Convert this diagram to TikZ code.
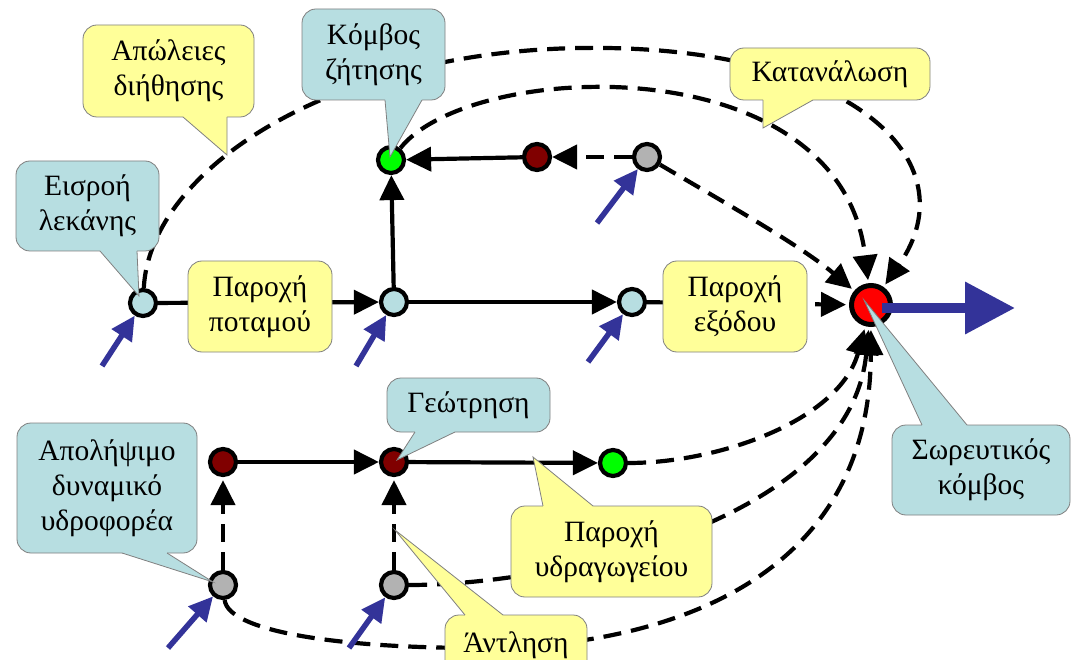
\documentclass[tikz,border=0pt]{standalone}
\usepackage{fontspec}
\setmainfont{Liberation Serif}
\usetikzlibrary{arrows.meta}
\definecolor{lblue}{HTML}{B7DEE1}
\definecolor{lyellow}{HTML}{FFFF99}
\definecolor{bgray}{HTML}{808080}
\definecolor{myblue}{HTML}{333399}
\definecolor{dred}{HTML}{800000}
\definecolor{ngray}{HTML}{B2B2B2}
\definecolor{ngreen}{HTML}{00FF00}
\newcommand\ptr[6]{%
  \fill[#1] (#5) -- (#2,#4) -- (#2,#6) -- (#3,#6) -- (#3,#4) -- cycle;
  \draw[pborder] (#2,#4) -- (#5) -- (#3,#4);}
\begin{document}
\begin{tikzpicture}[x=1pt,y=-1pt,
  nd/.style={circle, draw=black, line width=4.2pt, minimum size=26pt, inner sep=0pt},
  scon/.style={draw=black, line width=4.2pt, -{Triangle[length=25pt,width=24pt]}},
  dcon/.style={scon, dash pattern=on 18pt off 10pt},
  tosink/.style={shorten >=3pt},
  barr/.style={draw=myblue, line width=5.5pt, -{Triangle[length=24pt,width=23pt]}},
  cbox/.style={rectangle, rounded corners=14pt, draw=bgray, line width=0.8pt, align=center, inner sep=0pt, font=\fontsize{29.5}{35}\selectfont},
  ybox/.style={cbox, fill=lyellow},
  bbox/.style={cbox, fill=lblue},
  pborder/.style={draw=bgray, line width=0.8pt, line join=miter}]
\fill[white] (0,0) rectangle (1071,660);
\useasboundingbox (0,0) rectangle (1071,660);
% nodes
\node[nd, fill=lblue] (n1) at (143,303) {};
\node[nd, fill=lblue] (n2) at (394,302) {};
\node[nd, fill=lblue] (n3) at (632,302) {};
\node[nd, fill=ngreen] (dem) at (391,160) {};
\node[nd, fill=dred] (dr1) at (537,157) {};
\node[nd, fill=ngray] (gt) at (647,157) {};
\node[circle, draw=black, fill=red, line width=5pt, minimum size=39pt, inner sep=0pt] (sink) at (871,305) {};
\node[nd, fill=dred] (dra) at (223,462) {};
\node[nd, fill=dred] (drb) at (394,462) {};
\node[nd, fill=ngreen] (grc) at (613,463) {};
\node[nd, fill=ngray] (gra) at (223,585) {};
\node[nd, fill=ngray] (grb) at (394,585) {};
\coordinate (A2) at (580,48);
\coordinate (G1) at (480,648);
% connectors
\draw[dcon, tosink] (n1) .. controls (150,170) and (330,52) .. (A2) .. controls (850,44) and (972,160) .. (sink);
\draw[dcon, tosink] (dem) .. controls (470,60) and (840,44) .. (sink);
\draw[dcon, tosink] (gt) .. controls (720,200) and (800,245) .. (sink);
\draw[dcon, tosink] (n3) -- (sink);
\draw[dcon, tosink] (grc) .. controls (720,463) and (840,420) .. (sink);
\draw[dcon, tosink] (grb) .. controls (560,585) and (850,520) .. (sink);
\draw[dcon, tosink] (gra) .. controls (228,630) and (330,648) .. (G1) .. controls (630,648) and (870,600) .. (sink);
\draw[scon] (n1) -- (n2);
\draw[scon] (n2) -- (n3);
\draw[scon] (n2) -- (dem);
\draw[scon] (dr1) -- (dem);
\draw[dcon] (gt) -- (dr1);
\draw[scon] (dra) -- (drb);
\draw[scon] (drb) -- (grc);
\draw[dcon, shorten >=3pt] (gra) -- (dra);
\draw[dcon, shorten >=3pt] (grb) -- (drb);
% blue inflow arrows
\coordinate (b1) at (102,366);
\coordinate (b2) at (356,366);
\coordinate (b3) at (588,362);
\coordinate (b4) at (597,223);
\coordinate (b5) at (168,648);
\coordinate (b6) at (349,648);
\draw[barr] (b1) -- (n1);
\draw[barr] (b2) -- (n2);
\draw[barr] (b3) -- (n3);
\draw[barr] (b4) -- (gt);
\draw[barr] (b5) -- (gra);
\draw[barr] (b6) -- (grb);
\coordinate (outp) at (1015,308);
\draw[draw=myblue, line width=10pt, -{Triangle[length=50pt,width=50pt]}, shorten <=11pt] (sink.center |- outp) -- (outp);
% boxes
\node[ybox, minimum width=144pt, minimum height=91pt] (ppot) at (260,306.5) {Παροχή\\ποταμού};
\node[ybox, minimum width=144pt, minimum height=91pt] (pex) at (735,306.5) {Παροχή\\εξόδου};
\node[ybox, minimum width=171pt, minimum height=92pt] (apo) at (168.5,71) {Απώλειες\\διήθησης};
\ptr{lyellow}{183}{227}{117}{227,155}{114}
\node[bbox, minimum width=143pt, minimum height=90pt] (eis) at (87.5,206) {Εισροή\\λεκάνης};
\ptr{lblue}{100}{137}{251}{139,296}{248}
\node[bbox, minimum width=143pt, minimum height=91pt] (kz) at (373.5,54.5) {Κόμβος\\ζήτησης};
\ptr{lblue}{385}{422}{100}{390,157}{97}
\node[ybox, minimum width=200pt, minimum height=52pt] (kat) at (830,74) {Κατανάλωση};
\ptr{lyellow}{763}{813}{100}{763,128}{97}
\node[bbox, minimum width=178pt, minimum height=90pt] (sor) at (981,470) {Σωρευτικός\\κόμβος};
\ptr{lblue}{922}{967}{425}{864,300}{428}
\node[bbox, minimum width=163pt, minimum height=54pt] (geo) at (468.5,405) {Γεώτρηση};
\ptr{lblue}{415}{455}{432}{397,460}{429}
\node[bbox, minimum width=180pt, minimum height=130pt] (apol) at (107,488) {Απολήψιμο\\δυναμικό\\υδροφορέα};
\ptr{lblue}{122}{167}{553}{213,582}{550}
\node[ybox, minimum width=201pt, minimum height=91pt] (pyd) at (611.5,551.5) {Παροχή\\υδραγωγείου};
\ptr{lyellow}{543}{593}{506}{533,457}{509}
\node[ybox, minimum width=142pt, minimum height=60pt] (ant) at (516,645) {Άντληση};
\ptr{lyellow}{465}{503}{615}{395,530}{618}
\end{tikzpicture}
\end{document}
